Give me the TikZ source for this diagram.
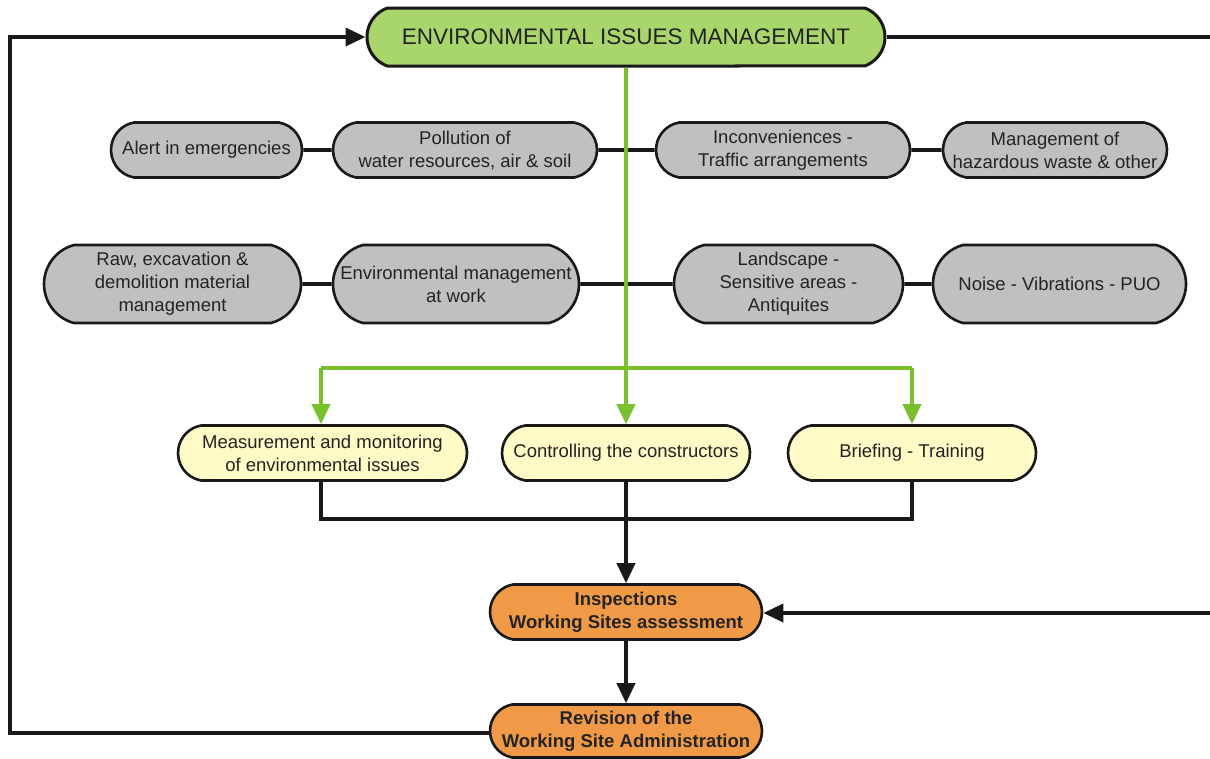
\documentclass[tikz,border=0pt]{standalone}
\usepackage{fontspec}
\setmainfont{Liberation Sans}
\usetikzlibrary{arrows.meta,shapes.misc}
\definecolor{greenf}{RGB}{168,214,108}
\definecolor{grayf}{RGB}{192,192,192}
\definecolor{yellowf}{RGB}{255,250,198}
\definecolor{orangef}{RGB}{240,154,72}
\definecolor{gline}{RGB}{122,192,44}
\definecolor{txt}{RGB}{35,35,35}
\newcommand{\fsn}{\fontsize{18.5}{23}\selectfont}
\newcommand{\fst}{\fontsize{22.5}{26}\selectfont}
\tikzset{
  box/.style={draw=black!90, line width=2.6pt, rounded rectangle, rounded rectangle arc length=160, align=center, inner sep=1pt, text=txt, font=\fsn},
  graybox/.style={box, fill=grayf, minimum height=55pt},
  graytall/.style={box, fill=grayf, minimum height=78pt, rounded rectangle arc length=150},
  yellowbox/.style={box, fill=yellowf, minimum height=55pt},
  orangebox/.style={box, fill=orangef, minimum height=55pt, font=\fsn\bfseries},
  titlebox/.style={box, fill=greenf, minimum height=58pt, rounded rectangle arc length=140, font=\fst, line width=3pt},
  blk/.style={draw=black!90, line width=3.6pt},
  blkarrow/.style={blk, -{Triangle[length=20pt,width=18pt]}},
  grn/.style={draw=gline, line width=3.6pt},
  grnarrow/.style={grn, -{Triangle[length=20pt,width=18pt]}}
}
\begin{document}
\begin{tikzpicture}[x=1pt,y=-1pt]
\useasboundingbox[fill=white] (0,0) rectangle (1210,758);
% title
\node[titlebox, minimum width=520pt] (title) at (626,37) {ENVIRONMENTAL ISSUES MANAGEMENT};
% gray row 1
\node[graybox, minimum width=193pt] (a1) at (206.5,150) {Alert in emergencies};
\node[graybox, minimum width=266pt] (a2) at (465,150) {Pollution of\\water resources, air \& soil};
\node[graybox, minimum width=256pt] (a3) at (783,150) {Inconveniences -\\Traffic arrangements};
\node[graybox, minimum width=226pt] (a4) at (1055,150) {Management of\\hazardous waste \& other};
% gray row 2
\node[graytall, minimum width=259pt] (b1) at (172.5,284) {Raw, excavation \&\\demolition material\\management};
\node[graytall, minimum width=248pt] (b2) at (456,284) {Environmental management\\at work};
\node[graytall, minimum width=231pt] (b3) at (788.5,284) {Landscape -\\Sensitive areas -\\Antiquites};
\node[graytall, minimum width=255pt] (b4) at (1059.5,284) {Noise - Vibrations - PUO};
% yellow row
\node[yellowbox, minimum width=291pt] (c1) at (322.5,453) {Measurement and monitoring\\of environmental issues};
\node[yellowbox, minimum width=250pt] (c2) at (626,453) {Controlling the constructors};
\node[yellowbox, minimum width=250pt] (c3) at (912,453) {Briefing - Training};
% orange
\node[orangebox, minimum width=274pt] (d1) at (626,612) {Inspections\\Working Sites assessment};
\node[orangebox, minimum width=274pt, minimum height=53pt] (d2) at (626,731) {Revision of the\\Working Site Administration};
% coordinates
\coordinate (gl) at (321,368);
\coordinate (gm) at (626,368);
\coordinate (gr) at (912,368);
\coordinate (kl) at (321,519);
\coordinate (km) at (626,519);
\coordinate (kr) at (912,519);
\coordinate (lt) at (10,37);
\coordinate (lb) at (10,733);
\coordinate (rt) at (1214,37);
\coordinate (rm) at (1214,613);
% gray connectors
\draw[blk] (a1) -- (a2);
\draw[blk] (a2) -- (a3);
\draw[blk] (a3) -- (a4);
\draw[blk] (b1) -- (b2);
\draw[blk] (b2) -- (b3);
\draw[blk] (b3) -- (b4);
% green distribution
\draw[grn] (title.south) -- (gm);
\draw[grn] (gl) -- (gr);
\draw[grnarrow] (gl) -- (gl |- c1.north);
\draw[grnarrow] (gm) -- (c2.north);
\draw[grnarrow] (gr) -- (gr |- c3.north);
% black collection
\draw[blk] (kl |- c1.south) -- (kl) -- (kr) -- (kr |- c3.south);
\draw[blkarrow] (c2.south) -- (d1.north);
\draw[blkarrow] (d1.south) -- (d2.north);
% feedback loops
\draw[blkarrow] (d2.west |- lb) -- (lb) -- (lt) -- (title.west);
\draw[blk] (title.east) -- (rt);
\draw[blkarrow] (rm) -- (d1.east |- rm);
\end{tikzpicture}
\end{document}
